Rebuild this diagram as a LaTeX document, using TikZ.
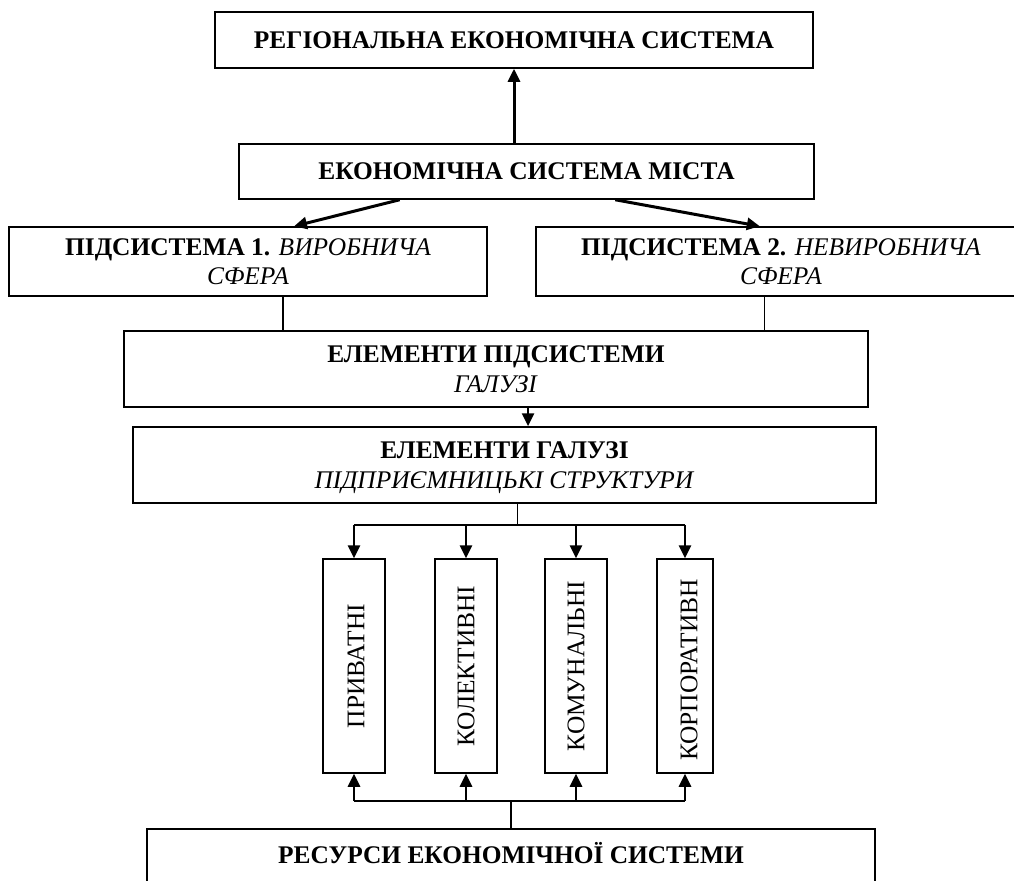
\documentclass[tikz,border=0pt]{standalone}
\usepackage{fontspec}
\setmainfont{Liberation Serif}
\usetikzlibrary{arrows.meta,calc}
\begin{document}
\begin{tikzpicture}[x=0.5pt,y=-0.5pt,
  txt/.style={font=\fontsize{12.7}{14.6}\selectfont},
  box/.style={draw, line width=0.75pt, inner sep=0pt, align=center, text depth=0pt, txt},
  vbox/.style={draw, line width=0.75pt, minimum height=107pt, inner sep=0pt},
  vtext/.style={rotate=90, inner sep=0pt, txt},
  bigarrow/.style={line width=1.5pt, -{Triangle[length=6.5pt,width=6pt]}},
  medarrow/.style={line width=1.3pt, -{Triangle[length=6.5pt,width=6pt]}},
  thinline/.style={line width=0.6pt},
  busline/.style={line width=1.2pt},
]
\clip (0,0) rectangle (1014,880);
\fill[white] (0,0) rectangle (1014,880);

% boxes
\node[box, minimum width=299pt, minimum height=28pt] (reg) at (514,40) {\textbf{РЕГІОНАЛЬНА ЕКОНОМІЧНА СИСТЕМА}};
\node[box, minimum width=287.5pt, minimum height=27.5pt] (city) at (526.5,171.5) {\textbf{ЕКОНОМІЧНА СИСТЕМА МІСТА}};
\node[box, minimum width=239pt, minimum height=34.5pt] (sub1) at (248,261.5) {\textbf{ПІДСИСТЕМА 1.} \textit{ВИРОБНИЧА}\\\textit{СФЕРА}};
\node[box, minimum width=245pt, minimum height=34.5pt] (sub2) at (781,261.5) {\textbf{ПІДСИСТЕМА 2.} \textit{НЕВИРОБНИЧА}\\\textit{СФЕРА}};
\node[box, minimum width=372pt, minimum height=38pt] (elsub) at (496,369) {\textbf{ЕЛЕМЕНТИ ПІДСИСТЕМИ}\\\textit{ГАЛУЗІ}};
\node[box, minimum width=371.5pt, minimum height=38pt] (elgal) at (504.5,465) {\textbf{ЕЛЕМЕНТИ ГАЛУЗІ}\\\textit{ПІДПРИЄМНИЦЬКІ СТРУКТУРИ}};

\node[vbox, minimum width=31pt] (v1) at (354,666) {};
\node[vbox, minimum width=31pt] (v2) at (466,666) {};
\node[vbox, minimum width=31pt] (v3) at (576,666) {};
\node[vbox, minimum width=28pt] (v4) at (685,666) {};
\node[vtext] (t1) at (356,666) {ПРИВАТНІ};
\node[vtext] (t2) at (466,666) {КОЛЕКТИВНІ};
\node[vtext] (t3) at (576,666) {КОМУНАЛЬНІ};
\node[vtext] (t4) at (689,670) {КОРПОРАТИВН};

\node[box, minimum width=364pt, minimum height=31pt, anchor=north] (res) at (511,828) {};
\node[txt, inner sep=0pt] (resT) at (511,853) {\textbf{РЕСУРСИ ЕКОНОМІЧНОЇ СИСТЕМИ}};

% connectors
\draw[bigarrow] (reg.south |- city.north) -- (reg.south);
\coordinate (c1) at ($(city.south west)!0.28!(city.south east)$);
\coordinate (c2) at ($(city.south west)!0.654!(city.south east)$);
\draw[bigarrow] (c1) -- ($(sub1.north west)!0.596!(sub1.north east)$);
\draw[bigarrow] (c2) -- ($(sub2.north west)!0.457!(sub2.north east)$);

\coordinate (s1) at ($(sub1.south west)!0.573!(sub1.south east)$);
\coordinate (s2) at ($(sub2.south west)!0.467!(sub2.south east)$);
\draw[thinline] (s1) -- (s1 |- elsub.north);
\draw[thinline] (s2) -- (s2 |- elsub.north);

\coordinate (e1) at ($(elsub.south west)!0.543!(elsub.south east)$);
\draw[medarrow] (e1) -- (e1 |- elgal.north);

\coordinate (g1) at ($(elgal.south west)!0.517!(elgal.south east)$);
\coordinate (busT) at ($(g1)+(0,21)$);
\draw[thinline] (g1) -- (busT);
\draw[busline] (v1.north |- busT) -- (v4.north |- busT);
\foreach \v in {v1,v2,v3,v4} \draw[medarrow] (\v.north |- busT) -- (\v.north);

\coordinate (busB) at ($(res.north)+(0,-27)$);
\draw[thinline] (res.north) -- (busB);
\draw[busline] (v1.south |- busB) -- (v4.south |- busB);
\foreach \v in {v1,v2,v3,v4} \draw[medarrow] (\v.south |- busB) -- (\v.south);
\end{tikzpicture}
\end{document}
